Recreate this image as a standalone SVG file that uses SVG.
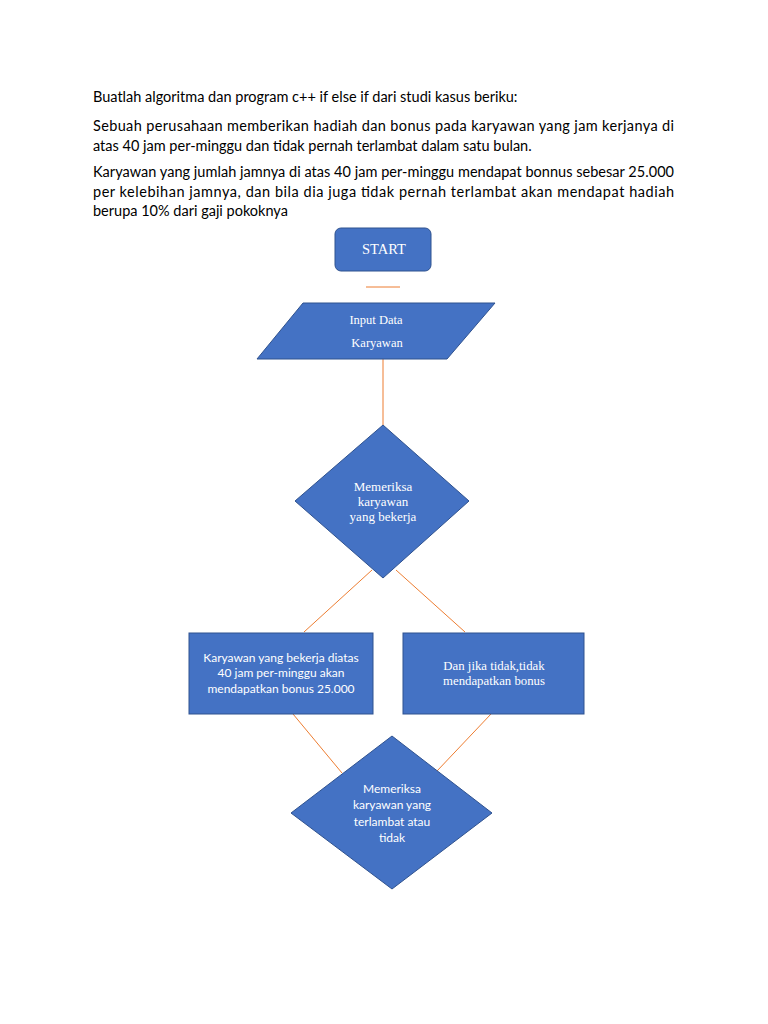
<svg xmlns="http://www.w3.org/2000/svg" width="768" height="1024" viewBox="0 0 768 1024">
<style>
.body{font-family:Lato,"Liberation Sans",sans-serif;font-size:14.5px;fill:#000}
.shape{fill:#4472C4;stroke:#2F528F;stroke-width:1}
.serif{font-family:"Liberation Serif","DejaVu Serif",serif;fill:#fff;text-anchor:middle}
.sans{font-family:Lato,"Liberation Sans",sans-serif;fill:#fff;text-anchor:middle}
.conn{stroke:#ED7D31;stroke-width:1;fill:none}
</style>
<rect width="768" height="1024" fill="#fff"/>
<g id="intro">
<text class="body" x="93" y="102">Buatlah algoritma dan program c++ if else if dari studi kasus beriku:</text>
<text class="body" x="93" y="131" textLength="581" lengthAdjust="spacing">Sebuah perusahaan memberikan hadiah dan bonus pada karyawan yang jam kerjanya di</text>
<text class="body" x="93" y="151">atas 40 jam per-minggu dan tidak pernah terlambat dalam satu bulan.</text>
<text class="body" x="93" y="177" textLength="581" lengthAdjust="spacing">Karyawan yang jumlah jamnya di atas 40 jam per-minggu mendapat bonnus sebesar 25.000</text>
<text class="body" x="93" y="197" textLength="581" lengthAdjust="spacing">per kelebihan jamnya, dan bila dia juga tidak pernah terlambat akan mendapat hadiah</text>
<text class="body" x="93" y="216">berupa 10% dari gaji pokoknya</text>
</g>
<g id="connectors">
<line class="conn" x1="366" y1="287" x2="400" y2="287"/>
<line class="conn" x1="383" y1="359" x2="383" y2="425"/>
<line class="conn" x1="372" y1="570" x2="304" y2="632"/>
<line class="conn" x1="396" y1="570" x2="465" y2="632"/>
<line class="conn" x1="293" y1="714" x2="342" y2="773"/>
<line class="conn" x1="491" y1="714" x2="437" y2="771"/>
</g>
<g id="start">
<rect class="shape" x="335" y="228" width="96" height="43" rx="6"/>
<text class="serif" x="384" y="254" font-size="14.5">START</text>
</g>
<g id="input">
<polygon class="shape" points="303,303 495,303 447,359 257,359"/>
<text class="serif" x="376" y="324" font-size="12.5">Input Data</text>
<text class="serif" x="377" y="347" font-size="12.5">Karyawan</text>
</g>
<g id="check-hours">
<polygon class="shape" points="383,425 469,501 383,578 295,501"/>
<text class="serif" x="383" y="491" font-size="13">Memeriksa</text>
<text class="serif" x="383" y="506" font-size="13">karyawan</text>
<text class="serif" x="383" y="521" font-size="13">yang bekerja</text>
</g>
<g id="bonus">
<rect class="shape" x="189" y="633" width="184" height="81"/>
<text class="sans" x="281" y="662" font-size="12">Karyawan yang bekerja diatas</text>
<text class="sans" x="281" y="677" font-size="12">40 jam per-minggu akan</text>
<text class="sans" x="281" y="693" font-size="12">mendapatkan bonus 25.000</text>
</g>
<g id="no-bonus">
<rect class="shape" x="403" y="633" width="181" height="81"/>
<text class="serif" x="494" y="670" font-size="12.8">Dan jika tidak,tidak</text>
<text class="serif" x="494" y="685" font-size="12.8">mendapatkan bonus</text>
</g>
<g id="check-late">
<polygon class="shape" points="392,736 492,813 392,889 291,813"/>
<text class="sans" x="392" y="793" font-size="12">Memeriksa</text>
<text class="sans" x="392" y="809" font-size="12">karyawan yang</text>
<text class="sans" x="392" y="826" font-size="12">terlambat atau</text>
<text class="sans" x="392" y="842" font-size="12">tidak</text>
</g>
</svg>
